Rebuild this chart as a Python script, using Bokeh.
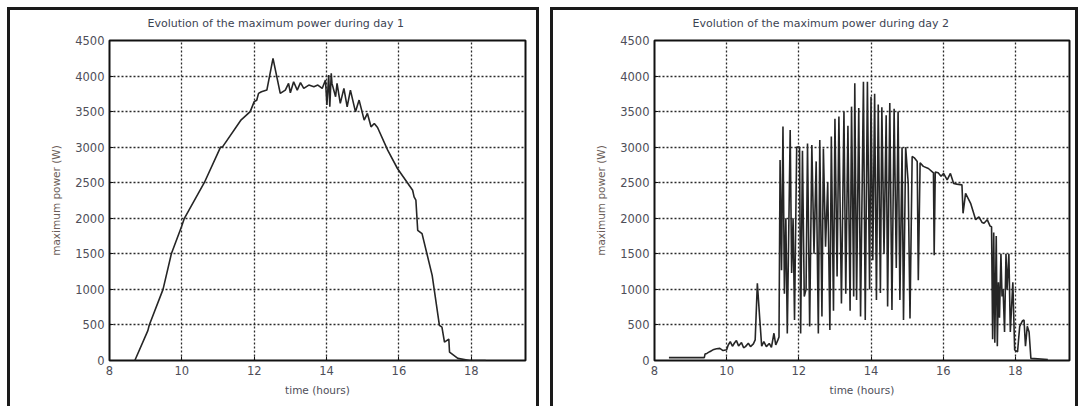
from bokeh.plotting import figure
from bokeh.layouts import row, column
from bokeh.models import FixedTicker, Range1d, Spacer
from bokeh.embed import file_html
from bokeh.resources import INLINE

# ---------------- data ----------------
x_ticks = [8, 10, 12, 14, 16, 18]
y_ticks = [0, 500, 1000, 1500, 2000, 2500, 3000, 3500, 4000, 4500]

day1_hours = [8.70, 9.06, 9.10, 9.48, 9.71, 9.99, 10.07, 10.62, 11.07, 11.12, 11.64, 11.89,
              12.00, 12.07, 12.12, 12.20, 12.35, 12.52, 12.72, 12.86, 12.95, 13.00, 13.09,
              13.19, 13.28, 13.37, 13.51, 13.65, 13.76, 13.88, 13.97, 14.01, 14.06, 14.09,
              14.13, 14.15, 14.25, 14.29, 14.38, 14.48, 14.57, 14.66, 14.80, 14.90, 15.04,
              15.13, 15.23, 15.32, 15.41, 15.69, 15.96, 16.38, 16.42, 16.47, 16.52, 16.64,
              16.92, 17.12, 17.19, 17.26, 17.38, 17.40, 17.63, 17.96, 18.40]
day1_power = [0, 420, 500, 1000, 1500, 1880, 2000, 2500, 3000, 3000, 3385, 3500,
              3640, 3660, 3756, 3779, 3803, 4249, 3756, 3803, 3897, 3765, 3920,
              3803, 3908, 3826, 3873, 3850, 3873, 3826, 3944, 3592, 4014, 3568,
              4038, 3897, 3709, 3897, 3615, 3826, 3568, 3803, 3497, 3662, 3380,
              3474, 3286, 3333, 3276, 2958, 2700, 2394, 2300, 2254, 1831, 1784,
              1197, 493, 469, 258, 300, 117, 30, 0, 0]

day2_hours = [8.40, 9.38, 9.40, 9.45, 9.53, 9.62, 9.72, 9.81, 9.90, 10.00, 10.04, 10.10,
              10.16, 10.22, 10.27, 10.33, 10.41, 10.47, 10.52, 10.60, 10.66, 10.74, 10.79,
              10.85, 10.92, 10.97, 11.03, 11.10, 11.18, 11.24, 11.31, 11.36, 11.42, 11.45,
              11.48, 11.52, 11.56, 11.60, 11.64, 11.68, 11.76, 11.80, 11.84, 11.88, 11.94,
              12.02, 12.05, 12.10, 12.15, 12.20, 12.24, 12.30, 12.36, 12.42, 12.48, 12.54,
              12.58, 12.64, 12.68, 12.74, 12.80, 12.86, 12.90, 12.96, 13.00, 13.06, 13.11,
              13.18, 13.25, 13.30, 13.36, 13.42, 13.46, 13.52, 13.55, 13.60, 13.66, 13.71,
              13.79, 13.84, 13.90, 13.96, 14.00, 14.05, 14.10, 14.15, 14.20, 14.26, 14.30,
              14.36, 14.42, 14.46, 14.52, 14.58, 14.64, 14.70, 14.75, 14.80, 14.86, 14.90,
              14.96, 15.03, 15.08, 15.14, 15.20, 15.28, 15.31, 15.36, 15.45, 15.59, 15.73,
              15.75, 15.78, 15.86, 15.94, 16.01, 16.11, 16.20, 16.29, 16.38, 16.52, 16.55,
              16.62, 16.76, 16.90, 16.99, 17.08, 17.13, 17.22, 17.30, 17.34, 17.37, 17.40,
              17.43, 17.47, 17.50, 17.53, 17.56, 17.60, 17.63, 17.66, 17.70, 17.74, 17.77,
              17.82, 17.86, 17.93, 17.98, 18.06, 18.12, 18.20, 18.24, 18.28, 18.33, 18.38,
              18.43, 18.90]
day2_power = [40, 40, 90, 100, 124, 150, 165, 171, 140, 150, 215, 265,
              200, 250, 280, 205, 252, 180, 195, 242, 195, 233, 290,
              1085, 560, 200, 265, 195, 240, 186, 383, 218, 290, 330,
              2820, 1270, 3290, 940, 2000, 380, 3240, 1230, 2000, 570, 3000,
              3000, 380, 2950, 900, 1000, 3050, 480, 3030, 1500, 2800, 380,
              3100, 620, 2980, 1600, 2500, 430, 3150, 700, 3400, 1180, 3430,
              800, 3500, 940, 3300, 700, 3570, 900, 3900, 850, 3550, 620,
              3920, 570, 3920, 1000, 3710, 1410, 3750, 850, 3600, 950, 3560,
              1500, 3450, 760, 3620, 710, 3540, 1300, 3500, 850, 3000, 570,
              3000, 2500, 590, 2870, 2850, 2800, 1130, 2780, 2730, 2700, 2640,
              1480, 2650, 2640, 2590, 2630, 2540, 2630, 2490, 2480, 2470, 2070,
              2350, 2210, 1980, 2020, 1940, 1930, 1980, 1890, 1880, 300, 1800,
              250, 1750, 200, 1100, 600, 1500, 900, 1000, 400, 1500, 1000,
              1500, 400, 1100, 150, 120, 480, 560, 570, 200, 480, 400,
              30, 15]

titles = ["Evolution of the maximum power during day 1",
          "Evolution of the maximum power during day 2"]

FONT = "DejaVu Sans"


def make_panel(title, hours, power, width, left, right):
    p = figure(width=width, height=399,
               x_range=Range1d(8, 19.5), y_range=Range1d(0, 4500),
               output_backend="svg", toolbar_location=None,
               min_border_left=left, min_border_right=right,
               min_border_top=33, min_border_bottom=46)
    p.border_fill_color = None
    p.background_fill_color = "white"
    p.outline_line_color = "#111111"
    p.outline_line_width = 2
    p.styles = {"box-shadow": "inset 3px 3px 0 0 #1a1a1a, inset -3px 0 0 0 #1a1a1a"}

    p.title.text = title
    p.title.align = "left"
    p.title.offset = 38
    p.title.vertical_align = "top"
    p.title.text_font = FONT
    p.title.text_font_size = "11px"
    p.title.text_font_style = "normal"
    p.title.text_color = "#3c4352"
    p.title.standoff = 18

    p.xaxis.ticker = FixedTicker(ticks=x_ticks)
    p.yaxis.ticker = FixedTicker(ticks=y_ticks)
    for ax in (p.xaxis[0], p.yaxis[0]):
        ax.axis_line_color = None
        ax.major_tick_in = 4
        ax.major_tick_out = 0
        ax.major_tick_line_color = "#111111"
        ax.minor_tick_line_color = None
        ax.major_label_text_font = FONT
        ax.major_label_text_font_size = "11.5px"
        ax.major_label_text_color = "#4e4e58"
        ax.major_label_standoff = 5
        ax.axis_label_text_font = FONT
        ax.axis_label_text_font_size = "10.5px"
        ax.axis_label_text_font_style = "normal"
    p.xaxis.axis_label = "time (hours)"
    p.xaxis.axis_label_text_color = "#4e4e58"
    p.xaxis.axis_label_standoff = 6
    p.yaxis.axis_label = "maximum power (W)"
    p.yaxis.axis_label_text_color = "#6b5d58"
    p.yaxis.axis_label_standoff = 10

    p.grid.grid_line_color = "#2a2a2a"
    p.grid.grid_line_dash = "2 2"
    p.grid.grid_line_width = 1.3

    p.line(hours, power, line_color="#262626", line_width=1.6)
    return p


p1 = make_panel(titles[0], day1_hours, day1_power, 532, 102, 14)
p2 = make_panel(titles[1], day2_hours, day2_power, 528, 104, 9)
layout = column(Spacer(height=7),
                row(Spacer(width=7), p1, Spacer(width=11), p2, spacing=0),
                spacing=0)

open("out.html", "w").write(file_html(layout, INLINE))
